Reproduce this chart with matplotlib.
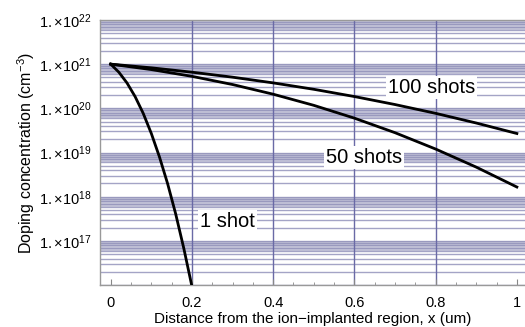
import numpy as np
import matplotlib
matplotlib.use('Agg')
import matplotlib.pyplot as plt

# depth positions (um) and log10 of doping concentration
x_wide = [0.0, 0.1, 0.2, 0.3, 0.4, 0.5, 0.6, 0.7, 0.8, 0.9, 1.0]
log_100 = [21.0, 20.917, 20.818, 20.705, 20.576, 20.431, 20.267, 20.086, 19.887, 19.668, 19.431]
log_50 = [21.0, 20.877, 20.724, 20.539, 20.320, 20.068, 19.778, 19.449, 19.079, 18.670, 18.220]

x_narrow = [0.0, 0.02, 0.04, 0.06, 0.08, 0.10, 0.12, 0.14, 0.16, 0.18, 0.20]
log_1 = [21.0, 20.818, 20.576, 20.267, 19.887, 19.431, 18.901, 18.299, 17.610, 16.830, 15.970]

y_decades = [17, 18, 19, 20, 21, 22]
x_ticks = [0, 0.2, 0.4, 0.6, 0.8, 1]

plt.rcParams['font.family'] = ['Liberation Sans', 'DejaVu Sans']
plt.rcParams['mathtext.fontset'] = 'custom'
plt.rcParams['mathtext.rm'] = 'Liberation Sans'
plt.rcParams['mathtext.it'] = 'Liberation Sans'

fig = plt.figure(figsize=(5.25, 3.27), dpi=100)
ax = fig.add_axes([0.19, 0.128, 0.81, 0.811])

ax.set_yscale('log')
ax.set_ylim(1e16, 1e22)
ax.set_xlim(-0.027, 1.02)

# dense horizontal grid at every k x 10^n
for n in range(16, 22):
    for k in range(1, 10):
        ax.axhline(k * 10.0 ** n, color='#8e8eb8', linewidth=1.0, alpha=0.8, zorder=1)
    ax.axhspan(6 * 10.0 ** n, 10.0 ** (n + 1), color='#c6c6da', linewidth=0, zorder=0)
for xv in [0.2, 0.4, 0.6, 0.8]:
    ax.axvline(xv, color='#6a6aa6', linewidth=1.0, zorder=1)

ax.plot(x_wide, 10.0 ** np.array(log_100), color='black', linewidth=2.0, zorder=3)
ax.plot(x_wide, 10.0 ** np.array(log_50), color='black', linewidth=2.0, zorder=3)
ax.plot(x_narrow, 10.0 ** np.array(log_1), color='black', linewidth=2.0, zorder=3)

box = dict(facecolor='white', edgecolor='none', pad=1.5)
ax.text(0.79, 10 ** 20.48, '100 shots', fontsize=14.5, ha='center', va='center', bbox=box, zorder=4)
ax.text(0.623, 10 ** 18.89, '50 shots', fontsize=14.5, ha='center', va='center', bbox=box, zorder=4)
ax.text(0.288, 10 ** 17.43, '1 shot', fontsize=14.5, ha='center', va='center', bbox=box, zorder=4)

ax.set_yticks([10.0 ** d for d in y_decades])
ax.set_yticklabels([r'$1.{\times}10^{%d}$' % d for d in y_decades], fontsize=10.5)
ax.yaxis.set_minor_locator(matplotlib.ticker.NullLocator())
ax.set_xticks(x_ticks)
ax.set_xticklabels(['0', '0.2', '0.4', '0.6', '0.8', '1'], fontsize=10.5)
ax.set_xticks(np.arange(0.05, 1.0, 0.05), minor=True)
ax.tick_params(axis='x', which='major', direction='in', length=4, color='#888888', pad=8)
ax.tick_params(axis='x', which='minor', direction='in', length=2, color='#888888')
ax.tick_params(axis='y', which='major', length=0, pad=6)

for s in ax.spines.values():
    s.set_color('#999999')
    s.set_linewidth(1.0)
ax.spines['right'].set_visible(False)

ax.set_xlabel('Distance from the ion\u2212implanted region, x (um)', fontsize=11, labelpad=1)
ax.set_ylabel(r'Doping concentration (cm$^{-3}$)', fontsize=11.5, labelpad=1)

fig.savefig('out.png', dpi=100)
